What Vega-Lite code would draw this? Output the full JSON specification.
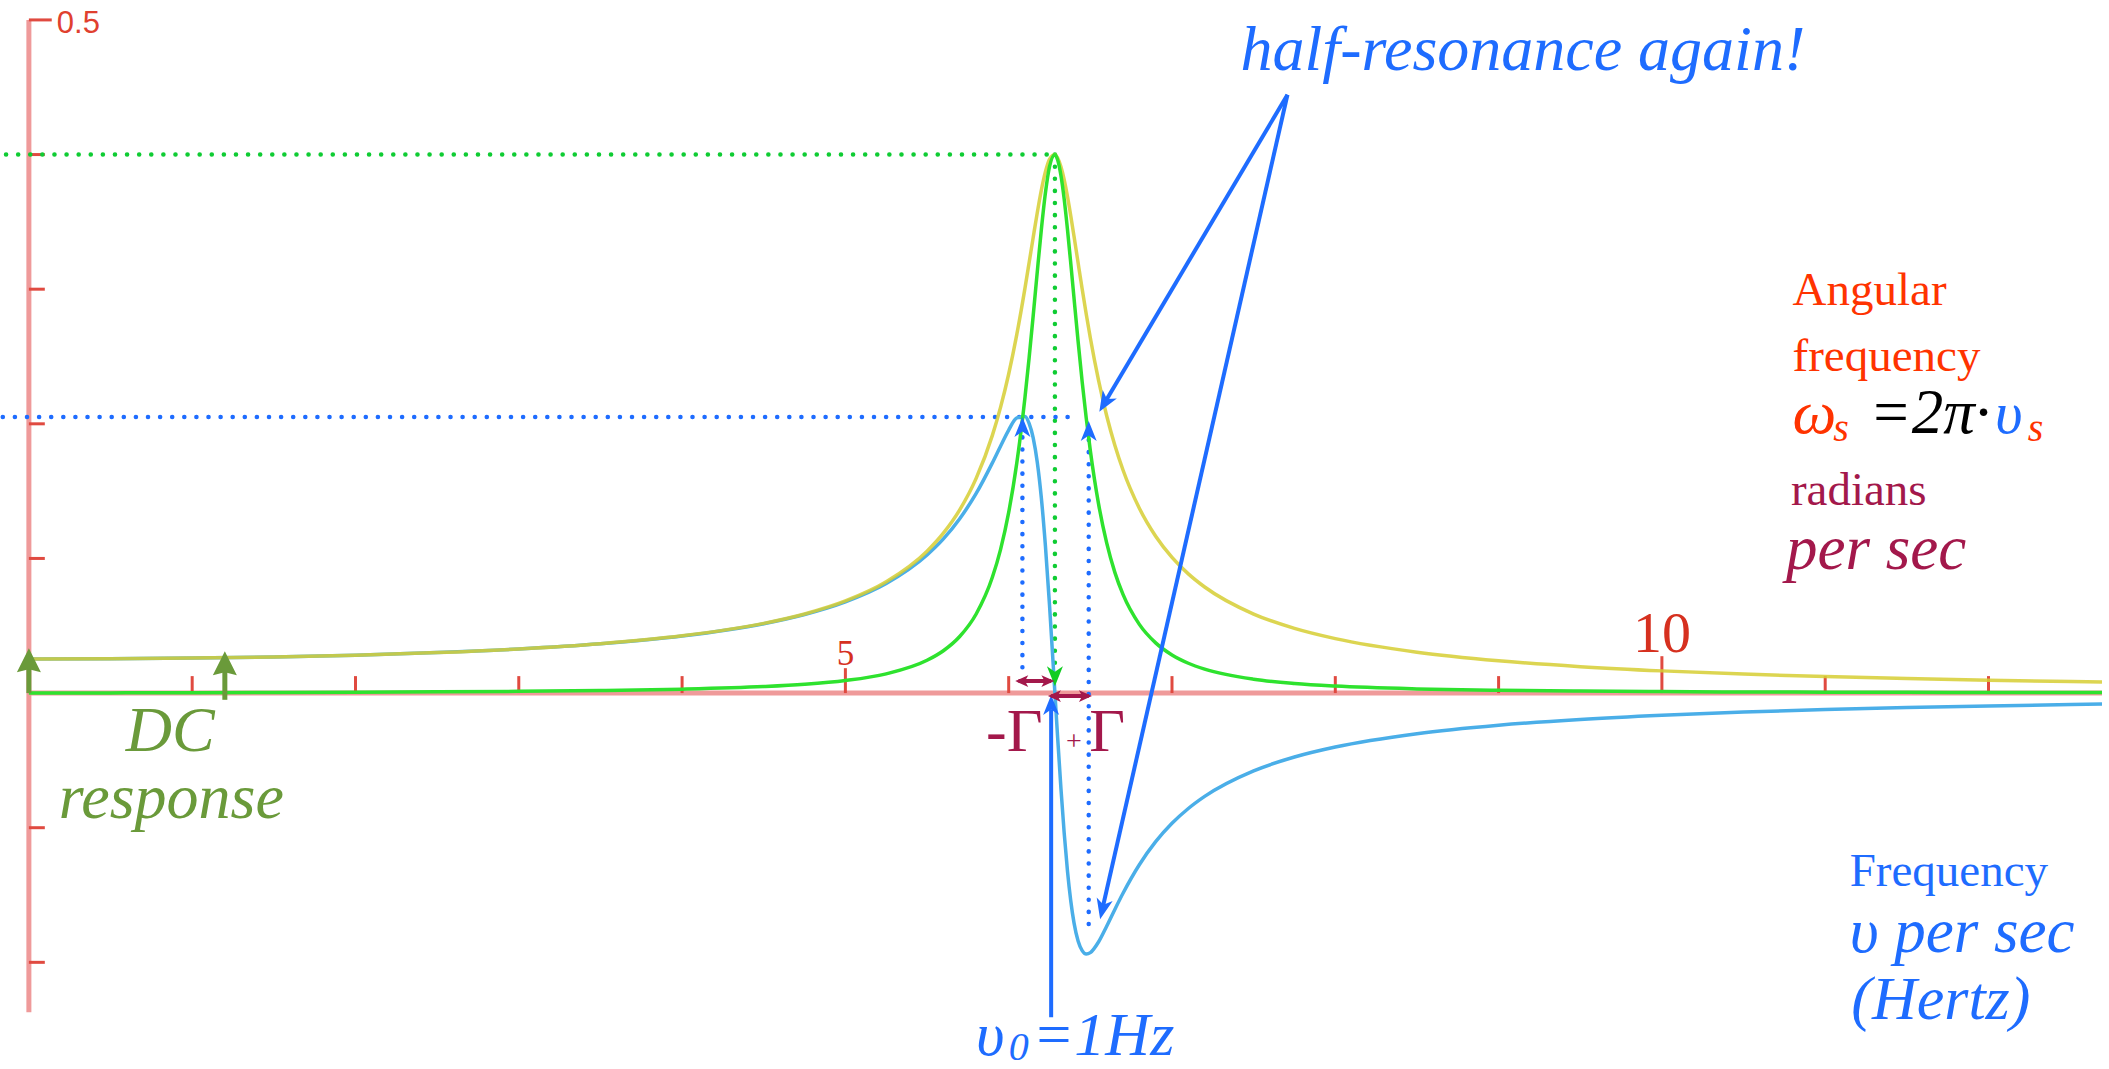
{
  "$schema": "https://vega.github.io/schema/vega-lite/v6.json",
  "width": 2109,
  "height": 1069,
  "autosize": {"type": "fit", "contains": "padding"},
  "padding": 0,
  "background": "white",
  "config": {"view": {"stroke": null}},
  "data": {"values": [{"anchor": 1}]},
  "datasets": {
    "response": [
      {"w": 0, "re": 0.02533, "im": 0, "amp": 0.02533},
      {"w": 0.5, "re": 0.02549, "im": 0.000129, "amp": 0.02549},
      {"w": 1, "re": 0.02599, "im": 0.000269, "amp": 0.02599},
      {"w": 1.5, "re": 0.02685, "im": 0.000431, "amp": 0.02686},
      {"w": 2, "re": 0.02817, "im": 0.000632, "amp": 0.02818},
      {"w": 2.5, "re": 0.03007, "im": 0.0009, "amp": 0.03008},
      {"w": 3, "re": 0.03276, "im": 0.001283, "amp": 0.03279},
      {"w": 3.5, "re": 0.03663, "im": 0.001874, "amp": 0.03668},
      {"w": 4, "re": 0.0424, "im": 0.002875, "amp": 0.0425},
      {"w": 4.5, "re": 0.05156, "im": 0.004803, "amp": 0.05178},
      {"w": 4.75, "re": 0.05839, "im": 0.006525, "amp": 0.05875},
      {"w": 5, "re": 0.06779, "im": 0.009318, "amp": 0.06843},
      {"w": 5.25, "re": 0.08142, "im": 0.01428, "amp": 0.08266},
      {"w": 5.5, "re": 0.1026, "im": 0.02434, "amp": 0.1054},
      {"w": 5.6, "re": 0.1145, "im": 0.03145, "amp": 0.1188},
      {"w": 5.7, "re": 0.1295, "im": 0.04203, "amp": 0.1361},
      {"w": 5.8, "re": 0.1481, "im": 0.05857, "amp": 0.1593},
      {"w": 5.9, "re": 0.171, "im": 0.08601, "amp": 0.1914},
      {"w": 5.95, "re": 0.1834, "im": 0.1066, "amp": 0.2122},
      {"w": 6.0, "re": 0.1954, "im": 0.1342, "amp": 0.237},
      {"w": 6.05, "re": 0.2044, "im": 0.1712, "amp": 0.2666},
      {"w": 6.1, "re": 0.2055, "im": 0.2199, "amp": 0.301},
      {"w": 6.125, "re": 0.2004, "im": 0.2489, "amp": 0.3196},
      {"w": 6.15, "re": 0.1896, "im": 0.2803, "amp": 0.3384},
      {"w": 6.175, "re": 0.1715, "im": 0.3129, "amp": 0.3568},
      {"w": 6.2, "re": 0.1449, "im": 0.3443, "amp": 0.3736},
      {"w": 6.225, "re": 0.1091, "im": 0.3716, "amp": 0.3873},
      {"w": 6.25, "re": 0.0653, "im": 0.3911, "amp": 0.3965},
      {"w": 6.283, "re": 0, "im": 0.3999, "amp": 0.3999},
      {"w": 6.3, "re": -0.0335, "im": 0.396, "amp": 0.3974},
      {"w": 6.32, "re": -0.071, "im": 0.3844, "amp": 0.3909},
      {"w": 6.34, "re": -0.1043, "im": 0.3667, "amp": 0.3812},
      {"w": 6.36, "re": -0.1322, "im": 0.3443, "amp": 0.3688},
      {"w": 6.38, "re": -0.1542, "im": 0.3193, "amp": 0.3546},
      {"w": 6.4, "re": -0.1707, "im": 0.2933, "amp": 0.3393},
      {"w": 6.425, "re": -0.1842, "im": 0.2613, "amp": 0.3196},
      {"w": 6.45, "re": -0.1913, "im": 0.2312, "amp": 0.3001},
      {"w": 6.475, "re": -0.1938, "im": 0.204, "amp": 0.2814},
      {"w": 6.5, "re": -0.1928, "im": 0.18, "amp": 0.2637},
      {"w": 6.55, "re": -0.1849, "im": 0.1407, "amp": 0.2324},
      {"w": 6.6, "re": -0.1732, "im": 0.1115, "amp": 0.206},
      {"w": 6.65, "re": -0.1607, "im": 0.08967, "amp": 0.1841},
      {"w": 6.7, "re": -0.1487, "im": 0.07326, "amp": 0.1657},
      {"w": 6.8, "re": -0.1275, "im": 0.05102, "amp": 0.1373},
      {"w": 6.9, "re": -0.1104, "im": 0.03728, "amp": 0.1165},
      {"w": 7.0, "re": -0.09674, "im": 0.0283, "amp": 0.1008},
      {"w": 7.1, "re": -0.08575, "im": 0.02216, "amp": 0.08857},
      {"w": 7.2, "re": -0.07677, "im": 0.0178, "amp": 0.0788},
      {"w": 7.5, "re": -0.05779, "im": 0.01029, "amp": 0.0587},
      {"w": 7.75, "re": -0.04751, "im": 0.00712, "amp": 0.04804},
      {"w": 8, "re": -0.0401, "im": 0.005207, "amp": 0.04044},
      {"w": 8.5, "re": -0.03019, "im": 0.003117, "amp": 0.03035},
      {"w": 9, "re": -0.02391, "im": 0.002062, "amp": 0.02399},
      {"w": 9.5, "re": -0.01959, "im": 0.001459, "amp": 0.01964},
      {"w": 10, "re": -0.01645, "im": 0.001082, "amp": 0.01649},
      {"w": 10.5, "re": -0.01408, "im": 0.000831, "amp": 0.01411},
      {"w": 11, "re": -0.01223, "im": 0.000657, "amp": 0.01225},
      {"w": 11.5, "re": -0.01075, "im": 0.000531, "amp": 0.01077},
      {"w": 12, "re": -0.009547, "im": 0.000436, "amp": 0.009557},
      {"w": 12.695, "re": -0.00818, "im": 0.000338, "amp": 0.008187}
    ],
    "xticks": [{"v": 1}, {"v": 2}, {"v": 3}, {"v": 4}, {"v": 5}, {"v": 6}, {"v": 7}, {"v": 8}, {"v": 9}, {"v": 10}, {"v": 11}, {"v": 12}],
    "yticks": [{"v": -0.2}, {"v": -0.1}, {"v": 0.1}, {"v": 0.2}, {"v": 0.3}, {"v": 0.4}]
  },
  "layer": [
    {
      "mark": {"type": "rule", "color": "#ef9a9a", "strokeWidth": 5},
      "encoding": {
        "x": {"datum": 0, "type": "quantitative", "scale": {"domain": [-0.1646, 12.695], "nice": false, "zero": false}, "axis": null},
        "y": {"datum": -0.237, "type": "quantitative", "scale": {"domain": [-0.277, 0.5148], "nice": false, "zero": false}, "axis": null},
        "y2": {"datum": 0.5}
      }
    },
    {
      "mark": {"type": "rule", "color": "#ef9a9a", "strokeWidth": 5},
      "encoding": {
        "x": {"datum": 0, "type": "quantitative", "scale": {"domain": [-0.1646, 12.695], "nice": false, "zero": false}, "axis": null},
        "x2": {"datum": 12.695},
        "y": {"datum": 0, "type": "quantitative", "scale": {"domain": [-0.277, 0.5148], "nice": false, "zero": false}, "axis": null}
      }
    },
    {
      "data": {"name": "yticks"},
      "mark": {"type": "rule", "color": "#e04a40", "strokeWidth": 3},
      "encoding": {
        "x": {"datum": 0, "type": "quantitative", "scale": {"domain": [-0.1646, 12.695], "nice": false, "zero": false}, "axis": null},
        "x2": {"datum": 0.0976},
        "y": {"field": "v", "type": "quantitative", "scale": {"domain": [-0.277, 0.5148], "nice": false, "zero": false}, "axis": null}
      }
    },
    {
      "mark": {"type": "rule", "color": "#e04a40", "strokeWidth": 3},
      "encoding": {
        "x": {"datum": 0, "type": "quantitative", "scale": {"domain": [-0.1646, 12.695], "nice": false, "zero": false}, "axis": null},
        "x2": {"datum": 0.14},
        "y": {"datum": 0.5, "type": "quantitative", "scale": {"domain": [-0.277, 0.5148], "nice": false, "zero": false}, "axis": null}
      }
    },
    {
      "data": {"name": "xticks"},
      "transform": [{"filter": "datum.v != 5 && datum.v != 10"}],
      "mark": {"type": "rule", "color": "#e04a40", "strokeWidth": 3},
      "encoding": {
        "x": {"field": "v", "type": "quantitative", "scale": {"domain": [-0.1646, 12.695], "nice": false, "zero": false}, "axis": null},
        "y": {"datum": 0, "type": "quantitative", "scale": {"domain": [-0.277, 0.5148], "nice": false, "zero": false}, "axis": null},
        "y2": {"datum": 0.0126}
      }
    },
    {
      "data": {"name": "xticks"},
      "transform": [{"filter": "datum.v == 5"}],
      "mark": {"type": "rule", "color": "#e04a40", "strokeWidth": 3},
      "encoding": {
        "x": {"field": "v", "type": "quantitative", "scale": {"domain": [-0.1646, 12.695], "nice": false, "zero": false}, "axis": null},
        "y": {"datum": 0, "type": "quantitative", "scale": {"domain": [-0.277, 0.5148], "nice": false, "zero": false}, "axis": null},
        "y2": {"datum": 0.0185}
      }
    },
    {
      "data": {"name": "xticks"},
      "transform": [{"filter": "datum.v == 10"}],
      "mark": {"type": "rule", "color": "#e04a40", "strokeWidth": 3},
      "encoding": {
        "x": {"field": "v", "type": "quantitative", "scale": {"domain": [-0.1646, 12.695], "nice": false, "zero": false}, "axis": null},
        "y": {"datum": 0, "type": "quantitative", "scale": {"domain": [-0.277, 0.5148], "nice": false, "zero": false}, "axis": null},
        "y2": {"datum": 0.0274}
      }
    },
    {
      "mark": {"type": "text", "text": "0.5", "font": "Liberation Sans", "fontSize": 31, "color": "#e0402f", "align": "left", "baseline": "alphabetic"},
      "encoding": {
        "x": {"datum": 0.171, "type": "quantitative", "scale": {"domain": [-0.1646, 12.695], "nice": false, "zero": false}, "axis": null},
        "y": {"datum": 0.4904, "type": "quantitative", "scale": {"domain": [-0.277, 0.5148], "nice": false, "zero": false}, "axis": null}
      }
    },
    {
      "mark": {"type": "text", "text": "5", "font": "Liberation Serif", "fontSize": 35, "color": "#d6301f", "align": "center", "baseline": "alphabetic"},
      "encoding": {
        "x": {"datum": 5, "type": "quantitative", "scale": {"domain": [-0.1646, 12.695], "nice": false, "zero": false}, "axis": null},
        "y": {"datum": 0.0207, "type": "quantitative", "scale": {"domain": [-0.277, 0.5148], "nice": false, "zero": false}, "axis": null}
      }
    },
    {
      "mark": {"type": "text", "text": "10", "font": "Liberation Serif", "fontSize": 58, "color": "#d6301f", "align": "center", "baseline": "alphabetic"},
      "encoding": {
        "x": {"datum": 10, "type": "quantitative", "scale": {"domain": [-0.1646, 12.695], "nice": false, "zero": false}, "axis": null},
        "y": {"datum": 0.0304, "type": "quantitative", "scale": {"domain": [-0.277, 0.5148], "nice": false, "zero": false}, "axis": null}
      }
    },
    {
      "mark": {"type": "rule", "color": "#0fcc33", "strokeWidth": 4.5, "strokeDash": [0.1, 12], "strokeCap": "round"},
      "encoding": {
        "x": {"datum": -0.14, "type": "quantitative", "scale": {"domain": [-0.1646, 12.695], "nice": false, "zero": false}, "axis": null},
        "x2": {"datum": 6.283},
        "y": {"datum": 0.4, "type": "quantitative", "scale": {"domain": [-0.277, 0.5148], "nice": false, "zero": false}, "axis": null}
      }
    },
    {
      "mark": {"type": "rule", "color": "#0fcc33", "strokeWidth": 4.5, "strokeDash": [0.1, 12], "strokeCap": "round"},
      "encoding": {
        "x": {"datum": 6.283, "type": "quantitative", "scale": {"domain": [-0.1646, 12.695], "nice": false, "zero": false}, "axis": null},
        "y": {"datum": 0.4, "type": "quantitative", "scale": {"domain": [-0.277, 0.5148], "nice": false, "zero": false}, "axis": null},
        "y2": {"datum": 0.02}
      }
    },
    {
      "mark": {"type": "rule", "color": "#1e6cff", "strokeWidth": 4.5, "strokeDash": [0.1, 12], "strokeCap": "round"},
      "encoding": {
        "x": {"datum": -0.16, "type": "quantitative", "scale": {"domain": [-0.1646, 12.695], "nice": false, "zero": false}, "axis": null},
        "x2": {"datum": 6.42},
        "y": {"datum": 0.205, "type": "quantitative", "scale": {"domain": [-0.277, 0.5148], "nice": false, "zero": false}, "axis": null}
      }
    },
    {
      "mark": {"type": "rule", "color": "#1e6cff", "strokeWidth": 4.5, "strokeDash": [0.1, 12], "strokeCap": "round"},
      "encoding": {
        "x": {"datum": 6.084, "type": "quantitative", "scale": {"domain": [-0.1646, 12.695], "nice": false, "zero": false}, "axis": null},
        "y": {"datum": 0.19, "type": "quantitative", "scale": {"domain": [-0.277, 0.5148], "nice": false, "zero": false}, "axis": null},
        "y2": {"datum": 0.017}
      }
    },
    {
      "mark": {"type": "rule", "color": "#1e6cff", "strokeWidth": 4.5, "strokeDash": [0.1, 12], "strokeCap": "round"},
      "encoding": {
        "x": {"datum": 6.49, "type": "quantitative", "scale": {"domain": [-0.1646, 12.695], "nice": false, "zero": false}, "axis": null},
        "y": {"datum": 0.188, "type": "quantitative", "scale": {"domain": [-0.277, 0.5148], "nice": false, "zero": false}, "axis": null},
        "y2": {"datum": -0.18}
      }
    },
    {
      "data": {"name": "response"},
      "mark": {"type": "line", "color": "#4aaee8", "strokeWidth": 3.5, "interpolate": "monotone"},
      "encoding": {
        "x": {"field": "w", "type": "quantitative", "scale": {"domain": [-0.1646, 12.695], "nice": false, "zero": false}, "axis": null},
        "y": {"field": "re", "type": "quantitative", "scale": {"domain": [-0.277, 0.5148], "nice": false, "zero": false}, "axis": null}
      }
    },
    {
      "data": {"name": "response"},
      "mark": {"type": "line", "color": "#d6ce32", "strokeWidth": 3.5, "opacity": 0.85, "interpolate": "monotone"},
      "encoding": {
        "x": {"field": "w", "type": "quantitative", "scale": {"domain": [-0.1646, 12.695], "nice": false, "zero": false}, "axis": null},
        "y": {"field": "amp", "type": "quantitative", "scale": {"domain": [-0.277, 0.5148], "nice": false, "zero": false}, "axis": null}
      }
    },
    {
      "data": {"name": "response"},
      "mark": {"type": "line", "color": "#2ee22e", "strokeWidth": 3.5, "interpolate": "monotone"},
      "encoding": {
        "x": {"field": "w", "type": "quantitative", "scale": {"domain": [-0.1646, 12.695], "nice": false, "zero": false}, "axis": null},
        "y": {"field": "im", "type": "quantitative", "scale": {"domain": [-0.277, 0.5148], "nice": false, "zero": false}, "axis": null}
      }
    },
    {
      "mark": {"type": "point", "shape": "M0,0L0.8,2L0,1.45L-0.8,2Z", "filled": true, "size": 400, "opacity": 1, "color": "#1e6cff", "angle": 0},
      "encoding": {
        "x": {"datum": 6.084, "type": "quantitative", "scale": {"domain": [-0.1646, 12.695], "nice": false, "zero": false}, "axis": null},
        "y": {"datum": 0.205, "type": "quantitative", "scale": {"domain": [-0.277, 0.5148], "nice": false, "zero": false}, "axis": null}
      }
    },
    {
      "mark": {"type": "point", "shape": "M0,0L0.8,2L0,1.45L-0.8,2Z", "filled": true, "size": 400, "opacity": 1, "color": "#1e6cff", "angle": 0},
      "encoding": {
        "x": {"datum": 6.49, "type": "quantitative", "scale": {"domain": [-0.1646, 12.695], "nice": false, "zero": false}, "axis": null},
        "y": {"datum": 0.202, "type": "quantitative", "scale": {"domain": [-0.277, 0.5148], "nice": false, "zero": false}, "axis": null}
      }
    },
    {
      "mark": {"type": "point", "shape": "M0,0L0.8,2L0,1.45L-0.8,2Z", "filled": true, "size": 400, "opacity": 1, "color": "#11cc22", "angle": 180},
      "encoding": {
        "x": {"datum": 6.283, "type": "quantitative", "scale": {"domain": [-0.1646, 12.695], "nice": false, "zero": false}, "axis": null},
        "y": {"datum": 0.005, "type": "quantitative", "scale": {"domain": [-0.277, 0.5148], "nice": false, "zero": false}, "axis": null}
      }
    },
    {
      "mark": {"type": "rule", "color": "#1e6cff", "strokeWidth": 4},
      "encoding": {
        "x": {"datum": 6.26, "type": "quantitative", "scale": {"domain": [-0.1646, 12.695], "nice": false, "zero": false}, "axis": null},
        "y": {"datum": -0.2407, "type": "quantitative", "scale": {"domain": [-0.277, 0.5148], "nice": false, "zero": false}, "axis": null},
        "y2": {"datum": -0.012}
      }
    },
    {
      "mark": {"type": "point", "shape": "M0,0L0.8,2L0,1.45L-0.8,2Z", "filled": true, "size": 400, "opacity": 1, "color": "#1e6cff", "angle": 0},
      "encoding": {
        "x": {"datum": 6.26, "type": "quantitative", "scale": {"domain": [-0.1646, 12.695], "nice": false, "zero": false}, "axis": null},
        "y": {"datum": -0.0015, "type": "quantitative", "scale": {"domain": [-0.277, 0.5148], "nice": false, "zero": false}, "axis": null}
      }
    },
    {
      "mark": {"type": "rule", "color": "#a3184b", "strokeWidth": 4},
      "encoding": {
        "x": {"datum": 6.06, "type": "quantitative", "scale": {"domain": [-0.1646, 12.695], "nice": false, "zero": false}, "axis": null},
        "x2": {"datum": 6.26},
        "y": {"datum": 0.0089, "type": "quantitative", "scale": {"domain": [-0.277, 0.5148], "nice": false, "zero": false}, "axis": null}
      }
    },
    {
      "mark": {"type": "point", "shape": "M0,0L0.9,2L0,1.5L-0.9,2Z", "filled": true, "size": 170, "opacity": 1, "color": "#a3184b", "angle": 270},
      "encoding": {
        "x": {"datum": 6.04, "type": "quantitative", "scale": {"domain": [-0.1646, 12.695], "nice": false, "zero": false}, "axis": null},
        "y": {"datum": 0.0089, "type": "quantitative", "scale": {"domain": [-0.277, 0.5148], "nice": false, "zero": false}, "axis": null}
      }
    },
    {
      "mark": {"type": "point", "shape": "M0,0L0.9,2L0,1.5L-0.9,2Z", "filled": true, "size": 170, "opacity": 1, "color": "#a3184b", "angle": 90},
      "encoding": {
        "x": {"datum": 6.28, "type": "quantitative", "scale": {"domain": [-0.1646, 12.695], "nice": false, "zero": false}, "axis": null},
        "y": {"datum": 0.0089, "type": "quantitative", "scale": {"domain": [-0.277, 0.5148], "nice": false, "zero": false}, "axis": null}
      }
    },
    {
      "mark": {"type": "rule", "color": "#a3184b", "strokeWidth": 4},
      "encoding": {
        "x": {"datum": 6.26, "type": "quantitative", "scale": {"domain": [-0.1646, 12.695], "nice": false, "zero": false}, "axis": null},
        "x2": {"datum": 6.49},
        "y": {"datum": -0.0022, "type": "quantitative", "scale": {"domain": [-0.277, 0.5148], "nice": false, "zero": false}, "axis": null}
      }
    },
    {
      "mark": {"type": "point", "shape": "M0,0L0.9,2L0,1.5L-0.9,2Z", "filled": true, "size": 170, "opacity": 1, "color": "#a3184b", "angle": 270},
      "encoding": {
        "x": {"datum": 6.24, "type": "quantitative", "scale": {"domain": [-0.1646, 12.695], "nice": false, "zero": false}, "axis": null},
        "y": {"datum": -0.0022, "type": "quantitative", "scale": {"domain": [-0.277, 0.5148], "nice": false, "zero": false}, "axis": null}
      }
    },
    {
      "mark": {"type": "point", "shape": "M0,0L0.9,2L0,1.5L-0.9,2Z", "filled": true, "size": 170, "opacity": 1, "color": "#a3184b", "angle": 90},
      "encoding": {
        "x": {"datum": 6.51, "type": "quantitative", "scale": {"domain": [-0.1646, 12.695], "nice": false, "zero": false}, "axis": null},
        "y": {"datum": -0.0022, "type": "quantitative", "scale": {"domain": [-0.277, 0.5148], "nice": false, "zero": false}, "axis": null}
      }
    },
    {
      "mark": {"type": "rule", "color": "#1e6cff", "strokeWidth": 4},
      "encoding": {
        "x": {"datum": 7.707, "type": "quantitative", "scale": {"domain": [-0.1646, 12.695], "nice": false, "zero": false}, "axis": null},
        "x2": {"datum": 6.586},
        "y": {"datum": 0.4444, "type": "quantitative", "scale": {"domain": [-0.277, 0.5148], "nice": false, "zero": false}, "axis": null},
        "y2": {"datum": 0.2153}
      }
    },
    {
      "mark": {"type": "point", "shape": "M0,0L0.8,2L0,1.45L-0.8,2Z", "filled": true, "size": 420, "opacity": 1, "color": "#1e6cff", "angle": 210.7},
      "encoding": {
        "x": {"datum": 6.555, "type": "quantitative", "scale": {"domain": [-0.1646, 12.695], "nice": false, "zero": false}, "axis": null},
        "y": {"datum": 0.2089, "type": "quantitative", "scale": {"domain": [-0.277, 0.5148], "nice": false, "zero": false}, "axis": null}
      }
    },
    {
      "mark": {"type": "rule", "color": "#1e6cff", "strokeWidth": 4},
      "encoding": {
        "x": {"datum": 7.707, "type": "quantitative", "scale": {"domain": [-0.1646, 12.695], "nice": false, "zero": false}, "axis": null},
        "x2": {"datum": 6.573},
        "y": {"datum": 0.4444, "type": "quantitative", "scale": {"domain": [-0.277, 0.5148], "nice": false, "zero": false}, "axis": null},
        "y2": {"datum": -0.1608}
      }
    },
    {
      "mark": {"type": "point", "shape": "M0,0L0.8,2L0,1.45L-0.8,2Z", "filled": true, "size": 420, "opacity": 1, "color": "#1e6cff", "angle": 192.8},
      "encoding": {
        "x": {"datum": 6.56, "type": "quantitative", "scale": {"domain": [-0.1646, 12.695], "nice": false, "zero": false}, "axis": null},
        "y": {"datum": -0.168, "type": "quantitative", "scale": {"domain": [-0.277, 0.5148], "nice": false, "zero": false}, "axis": null}
      }
    },
    {
      "mark": {"type": "rule", "color": "#6a9a3a", "strokeWidth": 5},
      "encoding": {
        "x": {"datum": 0, "type": "quantitative", "scale": {"domain": [-0.1646, 12.695], "nice": false, "zero": false}, "axis": null},
        "y": {"datum": 0, "type": "quantitative", "scale": {"domain": [-0.277, 0.5148], "nice": false, "zero": false}, "axis": null},
        "y2": {"datum": 0.02}
      }
    },
    {
      "mark": {"type": "point", "shape": "M0,0L1,2L0,1.75L-1,2Z", "filled": true, "size": 576, "opacity": 1, "color": "#6a9a3a", "angle": 0},
      "encoding": {
        "x": {"datum": 0, "type": "quantitative", "scale": {"domain": [-0.1646, 12.695], "nice": false, "zero": false}, "axis": null},
        "y": {"datum": 0.0333, "type": "quantitative", "scale": {"domain": [-0.277, 0.5148], "nice": false, "zero": false}, "axis": null}
      }
    },
    {
      "mark": {"type": "rule", "color": "#6a9a3a", "strokeWidth": 5},
      "encoding": {
        "x": {"datum": 1.2, "type": "quantitative", "scale": {"domain": [-0.1646, 12.695], "nice": false, "zero": false}, "axis": null},
        "y": {"datum": -0.005, "type": "quantitative", "scale": {"domain": [-0.277, 0.5148], "nice": false, "zero": false}, "axis": null},
        "y2": {"datum": 0.018}
      }
    },
    {
      "mark": {"type": "point", "shape": "M0,0L1,2L0,1.75L-1,2Z", "filled": true, "size": 576, "opacity": 1, "color": "#6a9a3a", "angle": 0},
      "encoding": {
        "x": {"datum": 1.2, "type": "quantitative", "scale": {"domain": [-0.1646, 12.695], "nice": false, "zero": false}, "axis": null},
        "y": {"datum": 0.031, "type": "quantitative", "scale": {"domain": [-0.277, 0.5148], "nice": false, "zero": false}, "axis": null}
      }
    },
    {
      "mark": {"type": "text", "text": "half-resonance again!", "font": "Liberation Serif", "fontStyle": "italic", "fontSize": 64, "color": "#1e6cff", "align": "left", "baseline": "alphabetic"},
      "encoding": {
        "x": {"datum": 7.42, "type": "quantitative", "scale": {"domain": [-0.1646, 12.695], "nice": false, "zero": false}, "axis": null},
        "y": {"datum": 0.463, "type": "quantitative", "scale": {"domain": [-0.277, 0.5148], "nice": false, "zero": false}, "axis": null}
      }
    },
    {
      "mark": {"type": "text", "text": "DC", "font": "Liberation Serif", "fontStyle": "italic", "fontSize": 64, "color": "#6a9a3a", "align": "center", "baseline": "alphabetic"},
      "encoding": {
        "x": {"datum": 0.866, "type": "quantitative", "scale": {"domain": [-0.1646, 12.695], "nice": false, "zero": false}, "axis": null},
        "y": {"datum": -0.043, "type": "quantitative", "scale": {"domain": [-0.277, 0.5148], "nice": false, "zero": false}, "axis": null}
      }
    },
    {
      "mark": {"type": "text", "text": "response", "font": "Liberation Serif", "fontStyle": "italic", "fontSize": 64, "color": "#6a9a3a", "align": "center", "baseline": "alphabetic"},
      "encoding": {
        "x": {"datum": 0.872, "type": "quantitative", "scale": {"domain": [-0.1646, 12.695], "nice": false, "zero": false}, "axis": null},
        "y": {"datum": -0.0926, "type": "quantitative", "scale": {"domain": [-0.277, 0.5148], "nice": false, "zero": false}, "axis": null}
      }
    },
    {
      "mark": {"type": "text", "text": "-Γ", "font": "Liberation Serif", "fontSize": 62, "color": "#a3184b", "align": "right", "baseline": "alphabetic"},
      "encoding": {
        "x": {"datum": 6.207, "type": "quantitative", "scale": {"domain": [-0.1646, 12.695], "nice": false, "zero": false}, "axis": null},
        "y": {"datum": -0.043, "type": "quantitative", "scale": {"domain": [-0.277, 0.5148], "nice": false, "zero": false}, "axis": null}
      }
    },
    {
      "mark": {"type": "text", "text": "+", "font": "Liberation Serif", "fontSize": 28, "color": "#a3184b", "align": "center", "baseline": "alphabetic"},
      "encoding": {
        "x": {"datum": 6.4, "type": "quantitative", "scale": {"domain": [-0.1646, 12.695], "nice": false, "zero": false}, "axis": null},
        "y": {"datum": -0.042, "type": "quantitative", "scale": {"domain": [-0.277, 0.5148], "nice": false, "zero": false}, "axis": null}
      }
    },
    {
      "mark": {"type": "text", "text": "Γ", "font": "Liberation Serif", "fontSize": 62, "color": "#a3184b", "align": "left", "baseline": "alphabetic"},
      "encoding": {
        "x": {"datum": 6.494, "type": "quantitative", "scale": {"domain": [-0.1646, 12.695], "nice": false, "zero": false}, "axis": null},
        "y": {"datum": -0.043, "type": "quantitative", "scale": {"domain": [-0.277, 0.5148], "nice": false, "zero": false}, "axis": null}
      }
    },
    {
      "mark": {"type": "text", "text": "υ", "font": "Liberation Serif", "fontStyle": "italic", "fontSize": 62, "color": "#1e6cff", "align": "left", "baseline": "alphabetic"},
      "encoding": {
        "x": {"datum": 5.8, "type": "quantitative", "scale": {"domain": [-0.1646, 12.695], "nice": false, "zero": false}, "axis": null},
        "y": {"datum": -0.269, "type": "quantitative", "scale": {"domain": [-0.277, 0.5148], "nice": false, "zero": false}, "axis": null}
      }
    },
    {
      "mark": {"type": "text", "text": "0", "font": "Liberation Serif", "fontStyle": "italic", "fontSize": 40, "color": "#1e6cff", "align": "left", "baseline": "alphabetic"},
      "encoding": {
        "x": {"datum": 6.0, "type": "quantitative", "scale": {"domain": [-0.1646, 12.695], "nice": false, "zero": false}, "axis": null},
        "y": {"datum": -0.2726, "type": "quantitative", "scale": {"domain": [-0.277, 0.5148], "nice": false, "zero": false}, "axis": null}
      }
    },
    {
      "mark": {"type": "text", "text": "=1Hz", "font": "Liberation Serif", "fontStyle": "italic", "fontSize": 62, "color": "#1e6cff", "align": "left", "baseline": "alphabetic"},
      "encoding": {
        "x": {"datum": 6.146, "type": "quantitative", "scale": {"domain": [-0.1646, 12.695], "nice": false, "zero": false}, "axis": null},
        "y": {"datum": -0.269, "type": "quantitative", "scale": {"domain": [-0.277, 0.5148], "nice": false, "zero": false}, "axis": null}
      }
    },
    {
      "mark": {"type": "text", "text": "Angular", "font": "Liberation Serif", "fontSize": 47, "color": "#ff3300", "align": "left", "baseline": "alphabetic"},
      "encoding": {
        "x": {"datum": 10.8, "type": "quantitative", "scale": {"domain": [-0.1646, 12.695], "nice": false, "zero": false}, "axis": null},
        "y": {"datum": 0.288, "type": "quantitative", "scale": {"domain": [-0.277, 0.5148], "nice": false, "zero": false}, "axis": null}
      }
    },
    {
      "mark": {"type": "text", "text": "frequency", "font": "Liberation Serif", "fontSize": 47, "color": "#ff3300", "align": "left", "baseline": "alphabetic"},
      "encoding": {
        "x": {"datum": 10.8, "type": "quantitative", "scale": {"domain": [-0.1646, 12.695], "nice": false, "zero": false}, "axis": null},
        "y": {"datum": 0.2392, "type": "quantitative", "scale": {"domain": [-0.277, 0.5148], "nice": false, "zero": false}, "axis": null}
      }
    },
    {
      "mark": {"type": "text", "text": "ω", "font": "Liberation Serif", "fontStyle": "italic", "fontSize": 62, "color": "#ff3300", "align": "left", "baseline": "alphabetic"},
      "encoding": {
        "x": {"datum": 10.8, "type": "quantitative", "scale": {"domain": [-0.1646, 12.695], "nice": false, "zero": false}, "axis": null},
        "y": {"datum": 0.1933, "type": "quantitative", "scale": {"domain": [-0.277, 0.5148], "nice": false, "zero": false}, "axis": null}
      }
    },
    {
      "mark": {"type": "text", "text": "s", "font": "Liberation Serif", "fontStyle": "italic", "fontSize": 40, "color": "#ff3300", "align": "left", "baseline": "alphabetic"},
      "encoding": {
        "x": {"datum": 11.05, "type": "quantitative", "scale": {"domain": [-0.1646, 12.695], "nice": false, "zero": false}, "axis": null},
        "y": {"datum": 0.1874, "type": "quantitative", "scale": {"domain": [-0.277, 0.5148], "nice": false, "zero": false}, "axis": null}
      }
    },
    {
      "mark": {"type": "text", "text": "=2π·", "font": "Liberation Serif", "fontStyle": "italic", "fontSize": 63, "color": "#000000", "align": "left", "baseline": "alphabetic"},
      "encoding": {
        "x": {"datum": 11.27, "type": "quantitative", "scale": {"domain": [-0.1646, 12.695], "nice": false, "zero": false}, "axis": null},
        "y": {"datum": 0.1933, "type": "quantitative", "scale": {"domain": [-0.277, 0.5148], "nice": false, "zero": false}, "axis": null}
      }
    },
    {
      "mark": {"type": "text", "text": "υ", "font": "Liberation Serif", "fontStyle": "italic", "fontSize": 60, "color": "#1e6cff", "align": "left", "baseline": "alphabetic"},
      "encoding": {
        "x": {"datum": 12.04, "type": "quantitative", "scale": {"domain": [-0.1646, 12.695], "nice": false, "zero": false}, "axis": null},
        "y": {"datum": 0.1933, "type": "quantitative", "scale": {"domain": [-0.277, 0.5148], "nice": false, "zero": false}, "axis": null}
      }
    },
    {
      "mark": {"type": "text", "text": "s", "font": "Liberation Serif", "fontStyle": "italic", "fontSize": 40, "color": "#ff3300", "align": "left", "baseline": "alphabetic"},
      "encoding": {
        "x": {"datum": 12.24, "type": "quantitative", "scale": {"domain": [-0.1646, 12.695], "nice": false, "zero": false}, "axis": null},
        "y": {"datum": 0.1874, "type": "quantitative", "scale": {"domain": [-0.277, 0.5148], "nice": false, "zero": false}, "axis": null}
      }
    },
    {
      "mark": {"type": "text", "text": "radians", "font": "Liberation Serif", "fontSize": 47, "color": "#a3184b", "align": "left", "baseline": "alphabetic"},
      "encoding": {
        "x": {"datum": 10.79, "type": "quantitative", "scale": {"domain": [-0.1646, 12.695], "nice": false, "zero": false}, "axis": null},
        "y": {"datum": 0.14, "type": "quantitative", "scale": {"domain": [-0.277, 0.5148], "nice": false, "zero": false}, "axis": null}
      }
    },
    {
      "mark": {"type": "text", "text": "per sec", "font": "Liberation Serif", "fontStyle": "italic", "fontSize": 63, "color": "#a3184b", "align": "left", "baseline": "alphabetic"},
      "encoding": {
        "x": {"datum": 10.76, "type": "quantitative", "scale": {"domain": [-0.1646, 12.695], "nice": false, "zero": false}, "axis": null},
        "y": {"datum": 0.0918, "type": "quantitative", "scale": {"domain": [-0.277, 0.5148], "nice": false, "zero": false}, "axis": null}
      }
    },
    {
      "mark": {"type": "text", "text": "Frequency", "font": "Liberation Serif", "fontSize": 47, "color": "#1e6cff", "align": "left", "baseline": "alphabetic"},
      "encoding": {
        "x": {"datum": 11.15, "type": "quantitative", "scale": {"domain": [-0.1646, 12.695], "nice": false, "zero": false}, "axis": null},
        "y": {"datum": -0.143, "type": "quantitative", "scale": {"domain": [-0.277, 0.5148], "nice": false, "zero": false}, "axis": null}
      }
    },
    {
      "mark": {"type": "text", "text": "υ per sec", "font": "Liberation Serif", "fontStyle": "italic", "fontSize": 63, "color": "#1e6cff", "align": "left", "baseline": "alphabetic"},
      "encoding": {
        "x": {"datum": 11.15, "type": "quantitative", "scale": {"domain": [-0.1646, 12.695], "nice": false, "zero": false}, "axis": null},
        "y": {"datum": -0.1926, "type": "quantitative", "scale": {"domain": [-0.277, 0.5148], "nice": false, "zero": false}, "axis": null}
      }
    },
    {
      "mark": {"type": "text", "text": "(Hertz)", "font": "Liberation Serif", "fontStyle": "italic", "fontSize": 62, "color": "#1e6cff", "align": "left", "baseline": "alphabetic"},
      "encoding": {
        "x": {"datum": 11.16, "type": "quantitative", "scale": {"domain": [-0.1646, 12.695], "nice": false, "zero": false}, "axis": null},
        "y": {"datum": -0.2422, "type": "quantitative", "scale": {"domain": [-0.277, 0.5148], "nice": false, "zero": false}, "axis": null}
      }
    }
  ]
}
